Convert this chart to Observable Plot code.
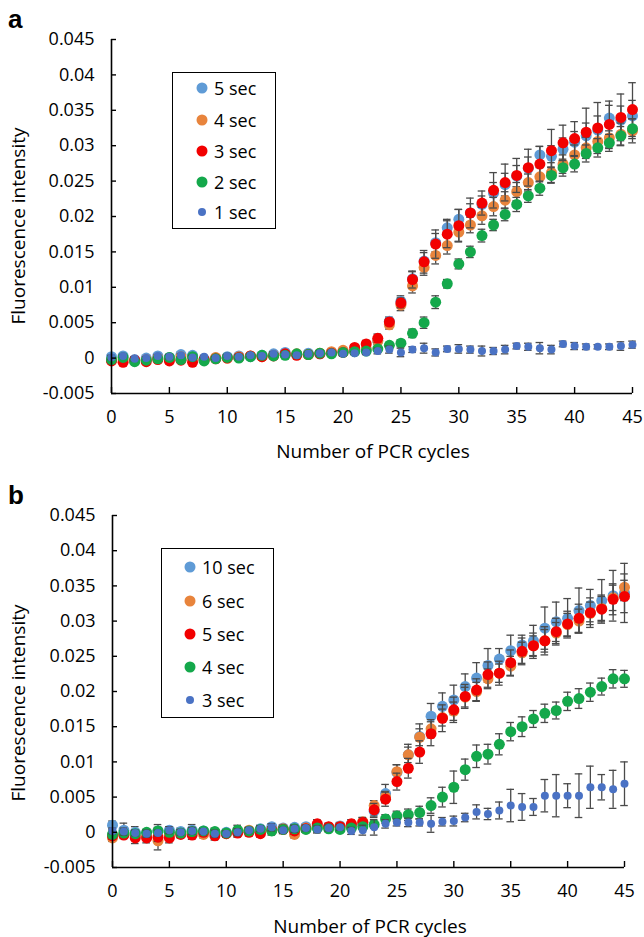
<!DOCTYPE html>
<html>
<head>
<meta charset="utf-8">
<script src="https://cdn.jsdelivr.net/npm/d3@7"></script>
<script src="https://cdn.jsdelivr.net/npm/@observablehq/plot@0.6"></script>
<style>
  html, body { margin: 0; padding: 0; background: #fff; }
  #wrap { position: relative; width: 644px; height: 937px; font-family: "Open Sans", sans-serif; color: #000; }
  .panel { position: absolute; left: 0; }
  .plab { position: absolute; font-family: "Liberation Sans", Arial, sans-serif; font-weight: bold; font-size: 26px; line-height: 1; }
  .xt { position: absolute; font-size: 19px; line-height: 1; white-space: nowrap; transform: translate(-50%, -50%); }
  .yt { position: absolute; font-size: 19px; line-height: 1; white-space: nowrap; transform: translate(-50%, -50%) rotate(-90deg); }
  .legend { position: absolute; border: 1.6px solid #000; background: #fff; box-sizing: border-box; }
  .li { position: absolute; font-size: 18px; line-height: 1; white-space: nowrap; transform: translateY(-50%); }
  .ld { position: absolute; border-radius: 50%; transform: translate(-50%, -50%); }
</style>
</head>
<body>
<div id="wrap"></div>
<script>
// ---------- shared axis data ----------
const cycles = d3.range(0, 46);
const xTicks = [0, 5, 10, 15, 20, 25, 30, 35, 40, 45];
const yTicks = [-0.005, 0, 0.005, 0.01, 0.015, 0.02, 0.025, 0.03, 0.035, 0.04, 0.045];
const yTickLabels = ["-0.005", "0", "0.005", "0.01", "0.015", "0.02", "0.025", "0.03", "0.035", "0.04", "0.045"];
const xTitle = "Number of PCR cycles";
const yTitle = "Fluorescence intensity";

// ---------- panel a ----------
const namesA = ["5 sec", "4 sec", "3 sec", "2 sec", "1 sec"];
const a5 = [0.0002,0.0003,-0.0002,0.0000,0.0003,0.0001,0.0005,0.0004,-0.0001,0.0000,0.0002,0.0003,0.0002,0.0004,0.0006,0.0008,0.0005,0.0007,0.0006,0.0008,0.0009,0.0010,0.0012,
  0.0025,0.0052,0.0080,0.0112,0.0137,0.0163,0.0184,0.0196,0.0205,0.0217,0.0233,0.0245,0.0257,0.0268,0.0287,0.0285,0.0295,0.0305,0.0314,0.0322,0.0339,0.0336,0.0342];
const a4 = [-0.0003,-0.0002,-0.0004,-0.0002,0.0000,-0.0001,0.0002,0.0000,-0.0003,0.0001,0.0000,0.0002,0.0003,0.0002,0.0004,0.0005,0.0006,0.0005,0.0007,0.0009,0.0011,0.0010,0.0013,
  0.0024,0.0047,0.0075,0.0102,0.0128,0.0145,0.0159,0.0178,0.0188,0.0201,0.0214,0.0223,0.0235,0.0248,0.0256,0.0262,0.0274,0.0287,0.0297,0.0306,0.0311,0.0316,0.0321];
const a3 = [-0.0004,-0.0006,-0.0003,-0.0005,-0.0002,-0.0004,-0.0003,-0.0006,-0.0002,-0.0001,0.0000,0.0001,0.0003,0.0002,0.0003,0.0006,0.0004,0.0005,0.0006,0.0007,0.0008,0.0015,0.0020,
  0.0028,0.0051,0.0078,0.0111,0.0136,0.0161,0.0175,0.0187,0.0205,0.0219,0.0237,0.0248,0.0258,0.0269,0.0274,0.0293,0.0304,0.0310,0.0319,0.0325,0.0330,0.0340,0.0351];
const a2 = [-0.0002,0.0001,-0.0005,-0.0003,-0.0001,0.0001,-0.0002,0.0002,-0.0004,-0.0001,0.0001,0.0000,0.0002,0.0004,0.0003,0.0004,0.0006,0.0005,0.0007,0.0006,0.0008,0.0009,0.0010,
  0.0013,0.0018,0.0021,0.0035,0.0050,0.0079,0.0105,0.0133,0.0150,0.0173,0.0188,0.0203,0.0217,0.0229,0.0240,0.0258,0.0269,0.0274,0.0289,0.0297,0.0304,0.0314,0.0324];
const a1 = [0.0001,0.0003,-0.0001,0.0000,0.0003,0.0002,0.0004,0.0001,0.0002,0.0000,0.0003,0.0002,0.0004,0.0003,0.0006,0.0005,0.0004,0.0006,0.0007,0.0008,0.0006,0.0007,0.0008,
  0.0010,0.0012,0.0008,0.0012,0.0014,0.0008,0.0013,0.0013,0.0012,0.0010,0.0010,0.0012,0.0017,0.0016,0.0014,0.0012,0.0020,0.0017,0.0016,0.0016,0.0016,0.0017,0.0019];
// error bars (±)
const a5e = [0.0003,0.0003,0.0002,0.0003,0.0003,0.0002,0.0004,0.0003,0.0003,0.0002,0.0003,0.0003,0.0002,0.0003,0.0003,0.0003,0.0003,0.0002,0.0003,0.0003,0.0003,0.0004,0.0004,
  0.0005,0.0006,0.0008,0.0010,0.0012,0.0013,0.0012,0.0014,0.0013,0.0012,0.0015,0.0016,0.0015,0.0016,0.0012,0.0015,0.0016,0.0015,0.0018,0.0020,0.0018,0.0020,0.0022];
const a4e = [0.0003,0.0002,0.0003,0.0002,0.0003,0.0003,0.0002,0.0003,0.0003,0.0002,0.0003,0.0002,0.0003,0.0003,0.0002,0.0003,0.0003,0.0003,0.0002,0.0003,0.0003,0.0003,0.0004,
  0.0005,0.0006,0.0008,0.0010,0.0011,0.0012,0.0012,0.0013,0.0011,0.0012,0.0013,0.0012,0.0013,0.0012,0.0013,0.0014,0.0013,0.0014,0.0015,0.0014,0.0015,0.0016,0.0017];
const a3e = [0.0003,0.0003,0.0003,0.0003,0.0003,0.0004,0.0003,0.0003,0.0003,0.0003,0.0003,0.0003,0.0003,0.0003,0.0003,0.0003,0.0003,0.0003,0.0003,0.0003,0.0003,0.0004,0.0005,
  0.0006,0.0005,0.0007,0.0012,0.0016,0.0020,0.0019,0.0023,0.0021,0.0017,0.0025,0.0026,0.0024,0.0026,0.0025,0.0030,0.0025,0.0024,0.0034,0.0036,0.0033,0.0033,0.0038];
const a2e = [0.0002,0.0003,0.0002,0.0002,0.0003,0.0002,0.0002,0.0003,0.0002,0.0002,0.0003,0.0002,0.0002,0.0003,0.0002,0.0002,0.0003,0.0002,0.0002,0.0002,0.0003,0.0003,0.0003,
  0.0003,0.0004,0.0005,0.0006,0.0008,0.0009,0.0006,0.0007,0.0008,0.0009,0.0008,0.0009,0.0010,0.0009,0.0010,0.0011,0.0012,0.0011,0.0012,0.0013,0.0012,0.0013,0.0014];
const a1e = [0.0003,0.0002,0.0003,0.0002,0.0002,0.0003,0.0002,0.0003,0.0002,0.0002,0.0002,0.0003,0.0002,0.0002,0.0003,0.0002,0.0002,0.0002,0.0003,0.0002,0.0003,0.0002,0.0003,
  0.0004,0.0005,0.0006,0.0004,0.0007,0.0005,0.0004,0.0006,0.0005,0.0007,0.0005,0.0006,0.0004,0.0005,0.0008,0.0006,0.0004,0.0005,0.0004,0.0003,0.0004,0.0006,0.0005];

// ---------- panel b ----------
const namesB = ["10 sec", "6 sec", "5 sec", "4 sec", "3 sec"];
const b10 = [0.0010,0.0003,0.0000,-0.0002,0.0002,0.0003,0.0001,0.0003,0.0002,-0.0002,0.0000,0.0001,0.0002,0.0005,0.0008,0.0006,0.0007,0.0008,0.0006,0.0007,0.0009,0.0008,0.0011,
  0.0030,0.0055,0.0085,0.0110,0.0136,0.0165,0.0179,0.0188,0.0207,0.0219,0.0237,0.0246,0.0258,0.0266,0.0272,0.0290,0.0299,0.0304,0.0315,0.0322,0.0329,0.0336,0.0340];
const b6 = [-0.0008,-0.0003,-0.0005,-0.0006,-0.0012,-0.0004,-0.0002,0.0000,-0.0003,0.0000,-0.0002,0.0001,0.0003,0.0000,0.0004,0.0005,-0.0003,0.0006,0.0009,0.0007,0.0008,0.0010,0.0015,
  0.0038,0.0050,0.0086,0.0110,0.0135,0.0147,0.0163,0.0172,0.0192,0.0200,0.0218,0.0226,0.0236,0.0255,0.0265,0.0272,0.0283,0.0295,0.0300,0.0311,0.0318,0.0333,0.0348];
const b5 = [-0.0005,-0.0004,-0.0008,-0.0008,-0.0007,-0.0008,-0.0003,-0.0004,0.0000,-0.0005,-0.0002,-0.0001,0.0000,-0.0002,0.0003,0.0004,0.0002,0.0005,0.0012,0.0008,0.0008,0.0012,0.0014,
  0.0032,0.0047,0.0072,0.0091,0.0114,0.0140,0.0162,0.0174,0.0193,0.0202,0.0224,0.0226,0.0241,0.0257,0.0265,0.0272,0.0285,0.0296,0.0304,0.0312,0.0317,0.0331,0.0335];
const b4 = [-0.0003,-0.0001,-0.0002,0.0000,0.0002,0.0000,-0.0001,0.0001,0.0002,0.0001,-0.0001,0.0003,0.0002,0.0004,0.0002,0.0004,0.0005,0.0004,0.0006,0.0005,0.0004,0.0006,0.0008,
  0.0011,0.0019,0.0023,0.0025,0.0028,0.0038,0.0050,0.0064,0.0089,0.0108,0.0111,0.0125,0.0143,0.0150,0.0161,0.0169,0.0173,0.0186,0.0190,0.0199,0.0207,0.0218,0.0218];
const b3 = [0.0002,0.0001,-0.0001,-0.0002,-0.0001,0.0003,0.0000,0.0002,0.0001,-0.0002,-0.0002,0.0000,0.0003,0.0005,0.0007,0.0003,0.0005,0.0006,0.0004,0.0006,0.0007,0.0002,0.0003,
  0.0007,0.0012,0.0014,0.0014,0.0014,0.0012,0.0015,0.0016,0.0021,0.0029,0.0026,0.0031,0.0038,0.0036,0.0036,0.0052,0.0052,0.0052,0.0052,0.0064,0.0064,0.0061,0.0069];
const b10e = [0.0006,0.0010,0.0008,0.0004,0.0009,0.0004,0.0005,0.0008,0.0004,0.0005,0.0004,0.0005,0.0004,0.0005,0.0004,0.0005,0.0004,0.0004,0.0005,0.0004,0.0005,0.0004,0.0005,
  0.0009,0.0013,0.0011,0.0015,0.0018,0.0018,0.0019,0.0021,0.0018,0.0022,0.0024,0.0015,0.0022,0.0014,0.0022,0.0030,0.0028,0.0028,0.0032,0.0023,0.0030,0.0036,0.0042];
const b6e = [0.0005,0.0004,0.0005,0.0004,0.0013,0.0004,0.0005,0.0004,0.0005,0.0004,0.0005,0.0004,0.0004,0.0005,0.0004,0.0004,0.0005,0.0004,0.0005,0.0004,0.0004,0.0005,0.0006,
  0.0007,0.0008,0.0010,0.0011,0.0012,0.0013,0.0012,0.0013,0.0014,0.0013,0.0014,0.0013,0.0014,0.0015,0.0014,0.0016,0.0015,0.0016,0.0017,0.0016,0.0017,0.0018,0.0019];
const b5e = [0.0005,0.0005,0.0008,0.0007,0.0006,0.0007,0.0005,0.0006,0.0005,0.0006,0.0005,0.0006,0.0005,0.0005,0.0005,0.0006,0.0005,0.0005,0.0006,0.0005,0.0005,0.0006,0.0007,
  0.0009,0.0010,0.0012,0.0014,0.0016,0.0017,0.0019,0.0018,0.0017,0.0016,0.0018,0.0017,0.0018,0.0019,0.0018,0.0020,0.0019,0.0018,0.0020,0.0021,0.0020,0.0022,0.0023];
const b4e = [0.0005,0.0004,0.0005,0.0004,0.0005,0.0004,0.0005,0.0004,0.0004,0.0005,0.0004,0.0007,0.0004,0.0005,0.0006,0.0004,0.0005,0.0004,0.0005,0.0004,0.0004,0.0005,0.0004,
  0.0005,0.0006,0.0007,0.0008,0.0009,0.0011,0.0014,0.0023,0.0015,0.0016,0.0014,0.0015,0.0013,0.0014,0.0012,0.0013,0.0012,0.0013,0.0014,0.0013,0.0012,0.0013,0.0012];
const b3e = [0.0004,0.0005,0.0004,0.0005,0.0004,0.0005,0.0004,0.0005,0.0004,0.0005,0.0004,0.0005,0.0004,0.0004,0.0005,0.0004,0.0005,0.0004,0.0005,0.0004,0.0004,0.0005,0.0007,
  0.0011,0.0006,0.0005,0.0006,0.0005,0.0012,0.0006,0.0007,0.0006,0.0010,0.0008,0.0012,0.0023,0.0019,0.0012,0.0023,0.0030,0.0017,0.0031,0.0030,0.0018,0.0027,0.0031];

const colors = ["#5f9bd6", "#e8843c", "#f20000", "#14a84b", "#4a72c4"];
const radii = [5.5, 5.5, 5.5, 5.5, 4];

function series(names, vals, errs) {
  return names.map((name, k) => ({
    name, color: colors[k], r: radii[k],
    data: cycles.map((c, i) => ({cycle: c, v: vals[k][i], e: errs[k][i]}))
  }));
}

const labelOf = new Map(yTicks.map((t, i) => [t, yTickLabels[i]]));

function panel(ser, dims) {
  const marks = [];
  for (const s of ser) {
    marks.push(Plot.ruleX(s.data, {x: "cycle", y1: d => d.v - d.e, y2: d => d.v + d.e, stroke: "#4a4a4a", strokeWidth: 1.3}));
    marks.push(Plot.ruleY(s.data, {y: d => d.v + d.e, x1: "cycle", x2: "cycle", insetLeft: -3.8, insetRight: -3.8, stroke: "#4a4a4a", strokeWidth: 1.3}));
    marks.push(Plot.ruleY(s.data, {y: d => d.v - d.e, x1: "cycle", x2: "cycle", insetLeft: -3.8, insetRight: -3.8, stroke: "#4a4a4a", strokeWidth: 1.3}));
    marks.push(Plot.dot(s.data, {x: "cycle", y: "v", r: s.r, fill: s.color, stroke: "none"}));
  }
  // axes
  marks.push(Plot.ruleX([xTicks[0]], {stroke: "#000", strokeWidth: 1.6}));
  marks.push(Plot.ruleY([yTicks[0]], {stroke: "#000", strokeWidth: 1.6}));
  marks.push(Plot.ruleX(xTicks, {x: d => d, y1: yTicks[0], y2: yTicks[0], insetTop: -6, stroke: "#000", strokeWidth: 1.4}));
  marks.push(Plot.ruleY(yTicks, {y: d => d, x1: xTicks[0], x2: xTicks[0], insetRight: -5, stroke: "#000", strokeWidth: 1.4}));
  marks.push(Plot.axisX({ticks: xTicks, tickSize: 0, tickPadding: 17, label: null, tickFormat: d => String(d), fontSize: 18}));
  marks.push(Plot.axisY({ticks: yTicks, tickSize: 0, tickPadding: 17, label: null, tickFormat: d => labelOf.get(d), fontSize: 18}));
  return Plot.plot({
    width: 644, height: dims.height,
    marginLeft: dims.left, marginRight: dims.right, marginTop: dims.top, marginBottom: dims.bottom,
    x: {domain: [xTicks[0], xTicks[xTicks.length - 1]]},
    y: {domain: [yTicks[0], yTicks[yTicks.length - 1]]},
    style: {fontFamily: "'Open Sans', sans-serif", fontSize: "18px", color: "#000", background: "transparent", overflow: "visible"},
    marks
  });
}

const wrap = document.getElementById("wrap");
function place(el, top) { el.classList.add("panel"); el.style.top = top + "px"; wrap.appendChild(el); }

const serA = series(namesA, [a5, a4, a3, a2, a1], [a5e, a4e, a3e, a2e, a1e]);
const serB = series(namesB, [b10, b6, b5, b4, b3], [b10e, b6e, b5e, b4e, b3e]);

place(panel(serA, {height: 465, left: 111, right: 12, top: 39, bottom: 72}), 0);
place(panel(serB, {height: 467, left: 112, right: 20, top: 45, bottom: 70}), 470);

function addDiv(cls, html, style) {
  const d = document.createElement("div");
  d.className = cls; d.innerHTML = html;
  Object.assign(d.style, style);
  wrap.appendChild(d);
  return d;
}
addDiv("plab", "a", {left: "8px", top: "6px"});
addDiv("plab", "b", {left: "8px", top: "482px"});
addDiv("xt", xTitle, {left: "373px", top: "451px"});
addDiv("xt", xTitle, {left: "370px", top: "926px"});
addDiv("yt", yTitle, {left: "18px", top: "226px"});
addDiv("yt", yTitle, {left: "18px", top: "703px"});

function legend(ser, box, dotX, textX, ys) {
  addDiv("legend", "", {left: box[0] + "px", top: box[1] + "px", width: (box[2] - box[0]) + "px", height: (box[3] - box[1]) + "px"});
  ser.forEach((s, k) => {
    addDiv("ld", "", {left: dotX + "px", top: ys[k] + "px", width: (2 * s.r) + "px", height: (2 * s.r) + "px", background: s.color});
    addDiv("li", s.name, {left: textX + "px", top: ys[k] + "px"});
  });
}
legend(serA, [172, 72, 276, 229], 202, 214, [88, 120, 151, 182, 212]);
legend(serB, [161, 548, 274, 718], 190, 202, [567, 601, 634, 667, 700]);
</script>
</body>
</html>
